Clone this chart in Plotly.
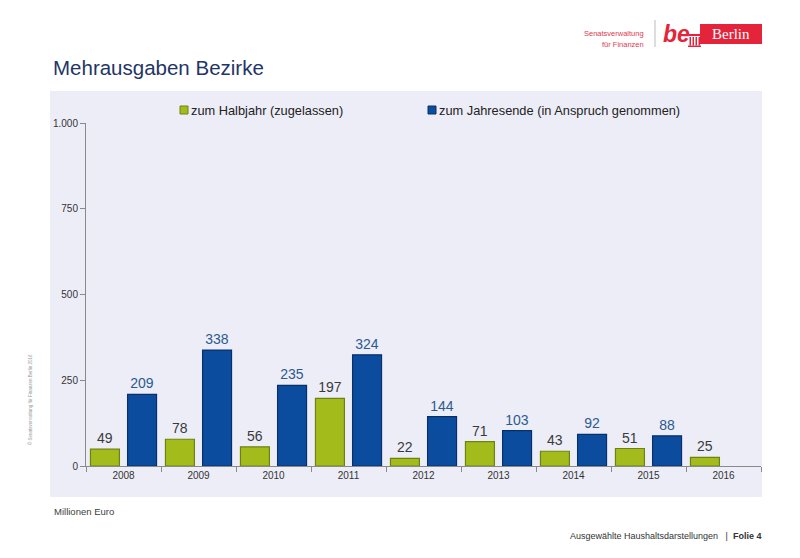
import plotly.graph_objects as go

years = ["2008", "2009", "2010", "2011", "2012", "2013", "2014", "2015", "2016"]
halbjahr = [49, 78, 56, 197, 22, 71, 43, 51, 25]
jahresende_years = ["2008", "2009", "2010", "2011", "2012", "2013", "2014", "2015"]
jahresende = [209, 338, 235, 324, 144, 103, 92, 88]
y_tickvals = [0, 250, 500, 750, 1000]
y_ticktext = ["0", "250", "500", "750", "1.000"]
series_names = ["zum Halbjahr (zugelassen)", "zum Jahresende (in Anspruch genommen)"]

OFF = 8  # page body margin
W, H = 800 - OFF, 558 - OFF
PX0, PX1, PY0, PY1 = 86, 761, 123, 466  # plot area in page pixels
L, T = PX0 - OFF, PY0 - OFF
R, B = 800 - PX1, 558 - PY1
PW, PH = PX1 - PX0, PY1 - PY0


def px(x):
    return (x - PX0) / PW


def py(y):
    return (PY1 - y) / PH


FONT = "Liberation Sans, Arial, sans-serif"
BG = "#EDEDF8"
GREEN, GREEN_EDGE = "#A3BC1C", "#6F8210"
BLUE, BLUE_EDGE = "#0C4C9F", "#06306A"
RED = "#E3243B"

fig = go.Figure()
fig.add_trace(go.Bar(
    x=years, y=halbjahr, name=series_names[0],
    marker=dict(color=GREEN, line=dict(color=GREEN_EDGE, width=1.2)),
    text=halbjahr, textposition="outside",
    textfont=dict(family=FONT, size=14, color="#3A3A3A"),
    cliponaxis=False, offsetgroup="a", showlegend=False,
))
fig.add_trace(go.Bar(
    x=jahresende_years, y=jahresende, name=series_names[1],
    marker=dict(color=BLUE, line=dict(color=BLUE_EDGE, width=1.2)),
    text=jahresende, textposition="outside",
    textfont=dict(family=FONT, size=14, color="#2C5A8C"),
    cliponaxis=False, offsetgroup="b", showlegend=False,
))


def prect(x0, x1, y0, y1, color, line=None, layer="above"):
    return dict(type="rect", xref="paper", yref="paper", x0=px(x0), x1=px(x1),
                y0=py(y1), y1=py(y0), fillcolor=color,
                line=line if line else dict(width=0), layer=layer)


shapes = [
    prect(50, 762, 91, 497, BG, layer="below"),
    dict(type="line", xref="paper", yref="paper", x0=px(655), x1=px(655),
         y0=py(20), y1=py(47), line=dict(color="#BBBBBB", width=1)),
    prect(700, 762, 24, 44, RED),
    prect(689, 700, 34, 36, RED),
    prect(688, 701, 45.5, 47, RED),
    # legend keys
    prect(180, 188, 106, 114, GREEN, dict(color=GREEN_EDGE, width=1)),
    prect(428, 436, 106, 114, BLUE, dict(color=BLUE_EDGE, width=1)),
]
for gx in [689.5, 692.5, 695.5, 698.5]:
    shapes.append(prect(gx, gx + 1.5, 37, 45.5, RED))


def ann(text, x, y, size, color, xanchor="left", family=FONT, **kw):
    return dict(text=text, x=px(x), y=py(y), xref="paper", yref="paper",
                xanchor=xanchor, yanchor="middle", showarrow=False,
                font=dict(family=family, size=size, color=color), **kw)


annotations = [
    ann("Mehrausgaben Bezirke", 51, 68, 20.5, "#1F3566"),
    ann("Senatsverwaltung", 646, 33, 7.5, "#E0394F", xanchor="right"),
    ann("für Finanzen", 646, 44, 7.5, "#E0394F", xanchor="right"),
    ann("<b><i>be</i></b>", 661, 34, 23, RED),
    ann("Berlin", 731, 34, 15, "#FFFFFF", xanchor="center", family="Liberation Serif, serif"),
    ann(series_names[0], 189, 110, 12.8, "#222222"),
    ann(series_names[1], 437, 110, 12.8, "#222222"),
    ann("Millionen Euro", 52, 511, 9.5, "#404040"),
    ann("Ausgewählte Haushaltsdarstellungen   |  <b>Folie 4</b>", 763, 536, 9, "#333333",
        xanchor="right"),
    ann("© Senatsverwaltung für Finanzen Berlin 2016", 30, 400, 4.5, "#9A9A9A",
        xanchor="center", textangle=-90),
]

fig.update_layout(
    width=W, height=H,
    margin=dict(l=L, r=R, t=T, b=B, pad=0),
    paper_bgcolor="white", plot_bgcolor=BG,
    barmode="group", bargap=0.01, bargroupgap=0.22,
    font=dict(family=FONT, color="#333333"),
    showlegend=False,
    shapes=shapes, annotations=annotations,
    xaxis=dict(type="category", showline=True, linecolor="#8A8A8A", linewidth=1,
               ticks="outside", tickson="boundaries", ticklen=5, tickcolor="#8A8A8A",
               tickfont=dict(family=FONT, size=10, color="#333333"),
               showgrid=False, range=[-0.5, 8.5], fixedrange=True),
    yaxis=dict(range=[0, 1000], tickvals=y_tickvals, ticktext=y_ticktext,
               showline=True, linecolor="#8A8A8A", linewidth=1,
               ticks="outside", ticklen=5, tickcolor="#8A8A8A",
               tickfont=dict(family=FONT, size=10, color="#333333"),
               showgrid=False, zeroline=False),
)

fig.write_html("out.html")
